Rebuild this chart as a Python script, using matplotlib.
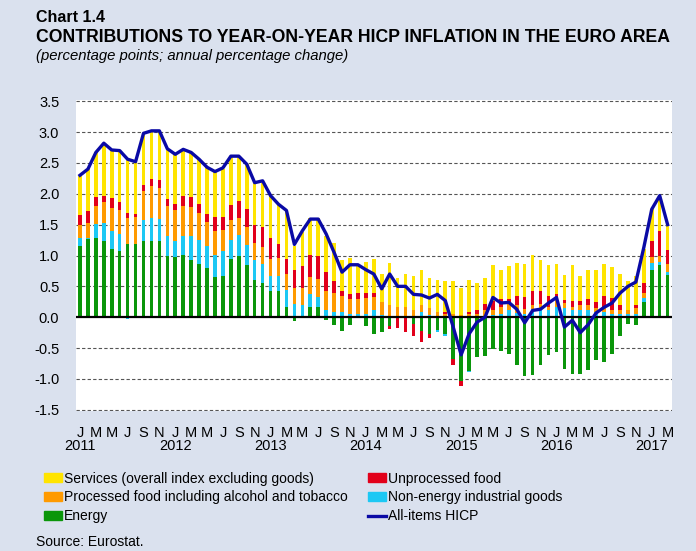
import matplotlib
matplotlib.use("Agg")
import matplotlib.pyplot as plt
import matplotlib.transforms as mtransforms
from matplotlib.patches import Patch
from matplotlib.lines import Line2D
import numpy as np

# monthly data, Jan 2011 - Mar 2017 (percentage points)
energy = [1.16, 1.26, 1.28, 1.24, 1.11, 1.08, 1.19, 1.18, 1.24, 1.24, 1.23, 0.99,
          0.97, 1.01, 0.92, 0.87, 0.79, 0.65, 0.66, 0.95, 0.99, 0.85, 0.61, 0.55,
          0.42, 0.42, 0.16, -0.06, -0.02, 0.16, 0.16, -0.05, -0.12, -0.22, -0.12, 0.00,
          -0.15, -0.27, -0.24, -0.14, -0.01, -0.01, -0.11, -0.23, -0.27, -0.20, -0.27, -0.67,
          -1.04, -0.87, -0.65, -0.63, -0.51, -0.55, -0.60, -0.78, -0.96, -0.93, -0.78, -0.62,
          -0.57, -0.84, -0.92, -0.92, -0.86, -0.69, -0.72, -0.59, -0.31, -0.11, -0.12, 0.24,
          0.76, 0.85, 0.68]
neig = [0.13, 0.02, 0.23, 0.29, 0.28, 0.27, -0.03, -0.01, 0.33, 0.37, 0.36, 0.33,
        0.27, 0.30, 0.39, 0.38, 0.36, 0.36, 0.41, 0.30, 0.34, 0.32, 0.32, 0.31,
        0.25, 0.24, 0.28, 0.22, 0.20, 0.22, 0.16, 0.12, 0.09, 0.08, 0.05, 0.05,
        0.06, 0.12, 0.03, 0.01, 0.01, 0.01, 0.01, 0.09, 0.03, -0.04, -0.03, 0.00,
        0.00, -0.02, 0.00, 0.01, 0.04, 0.06, 0.11, 0.07, 0.05, 0.13, 0.15, 0.12,
        0.17, 0.15, 0.12, 0.12, 0.12, 0.08, 0.08, 0.05, 0.05, 0.05, 0.06, 0.07,
        0.12, 0.04, 0.06]
processed = [0.21, 0.24, 0.29, 0.34, 0.38, 0.38, 0.41, 0.44, 0.48, 0.51, 0.50, 0.49,
             0.49, 0.50, 0.47, 0.44, 0.40, 0.39, 0.35, 0.32, 0.28, 0.29, 0.28, 0.28,
             0.28, 0.30, 0.26, 0.25, 0.27, 0.27, 0.30, 0.31, 0.30, 0.26, 0.25, 0.25,
             0.25, 0.21, 0.21, 0.18, 0.15, 0.15, 0.11, 0.11, 0.12, 0.08, 0.05, 0.05,
             0.03, 0.05, 0.05, 0.10, 0.08, 0.10, 0.13, 0.12, 0.08, 0.07, 0.07, 0.04,
             0.12, 0.08, 0.05, 0.07, 0.08, 0.07, 0.08, 0.07, 0.07, 0.07, 0.09, 0.09,
             0.10, 0.11, 0.12]
unprocessed = [0.16, 0.20, 0.15, 0.10, 0.16, 0.14, 0.09, 0.06, 0.10, 0.12, 0.14, 0.11,
               0.11, 0.15, 0.16, 0.15, 0.13, 0.23, 0.21, 0.25, 0.28, 0.30, 0.29, 0.32,
               0.34, 0.23, 0.25, 0.30, 0.36, 0.36, 0.38, 0.31, 0.20, 0.09, 0.07, 0.10,
               0.09, 0.07, 0.00, -0.05, -0.17, -0.23, -0.20, -0.17, -0.07, 0.00, 0.04, -0.10,
               -0.08, 0.04, 0.06, 0.10, 0.15, 0.14, 0.05, 0.16, 0.19, 0.23, 0.20, 0.19,
               0.08, 0.05, 0.10, 0.08, 0.10, 0.10, 0.19, 0.19, 0.07, 0.00, 0.05, 0.16,
               0.26, 0.39, 0.23]
services = [0.63, 0.68, 0.72, 0.85, 0.78, 0.83, 0.85, 0.84, 0.83, 0.78, 0.79, 0.81,
            0.80, 0.76, 0.73, 0.72, 0.75, 0.72, 0.77, 0.78, 0.71, 0.72, 0.67, 0.72,
            0.67, 0.63, 0.78, 0.39, 0.55, 0.60, 0.61, 0.58, 0.61, 0.50, 0.59, 0.45,
            0.49, 0.55, 0.46, 0.69, 0.48, 0.54, 0.54, 0.56, 0.49, 0.52, 0.49, 0.54,
            0.44, 0.52, 0.44, 0.42, 0.58, 0.47, 0.54, 0.53, 0.54, 0.58, 0.50, 0.50,
            0.50, 0.40, 0.58, 0.39, 0.46, 0.51, 0.51, 0.50, 0.51, 0.47, 0.47, 0.55,
            0.51, 0.58, 0.41]
hicp = [2.30, 2.40, 2.67, 2.82, 2.71, 2.70, 2.56, 2.52, 2.98, 3.02, 3.02, 2.73,
        2.64, 2.72, 2.67, 2.56, 2.43, 2.36, 2.42, 2.61, 2.61, 2.48, 2.18, 2.21,
        1.97, 1.83, 1.73, 1.18, 1.40, 1.59, 1.59, 1.35, 1.05, 0.73, 0.85, 0.85,
        0.77, 0.70, 0.46, 0.70, 0.50, 0.50, 0.37, 0.36, 0.31, 0.37, 0.27, -0.16,
        -0.61, -0.27, -0.08, 0.00, 0.32, 0.23, 0.24, 0.13, -0.09, 0.11, 0.13, 0.23,
        0.32, -0.16, -0.05, -0.25, -0.12, 0.07, 0.16, 0.23, 0.39, 0.50, 0.57, 1.13,
        1.75, 1.97, 1.50]

month_letters = ["J", "F", "M", "A", "M", "J", "J", "A", "S", "O", "N", "D"]
years = ["2011", "2012", "2013", "2014", "2015", "2016", "2017"]

series = [
    ("Energy", energy, "#0A960A"),
    ("Non-energy industrial goods", neig, "#1CC8F4"),
    ("Processed food including alcohol and tobacco", processed, "#FF9A00"),
    ("Unprocessed food", unprocessed, "#E2001A"),
    ("Services (overall index excluding goods)", services, "#FFE400"),
]

bg = "#DAE1EE"
line_col = "#0A0AA5"
fig = plt.figure(figsize=(6.96, 5.51), dpi=100, facecolor=bg)
plt.rcParams["font.family"] = ["Liberation Sans", "DejaVu Sans"]

W, H = 696.0, 551.0
ax = fig.add_axes([76 / W, 1 - 411 / H, (672 - 76) / W, (411 - 100) / H])
ax.set_facecolor("white")

x = np.arange(len(hicp))
pos_base = np.zeros(len(x))
neg_base = np.zeros(len(x))
handles = {}
for name, vals, col in series:
    v = np.array(vals)
    base = np.where(v >= 0, pos_base, neg_base)
    ax.bar(x, v, width=0.45, bottom=base, color=col, linewidth=0, zorder=2)
    handles[name] = Patch(color=col)
    pos_base = pos_base + np.clip(v, 0, None)
    neg_base = neg_base + np.clip(v, None, 0)

ax.plot(x, hicp, color=line_col, lw=2.4, zorder=4, solid_joinstyle="round")
ax.axhline(0, color="black", lw=1.6, zorder=3)

yt = np.arange(-1.5, 3.51, 0.5)
ax.set_ylim(-1.52, 3.52)
ax.set_xlim(-0.5, 74.55)
ax.set_yticks(yt)
ax.set_yticklabels([f"{t:.1f}" for t in yt])
for t in yt:
    if abs(t) > 1e-9:
        ax.axhline(t, color="#555555", lw=0.8, ls=(0, (3, 2)), zorder=1)

ticks = x[::2]
ax.set_xticks(ticks)
ax.set_xticklabels([month_letters[i % 12] for i in ticks])
ax.tick_params(axis="both", length=0, labelsize=10.5, colors="black")
ax.tick_params(axis="y", pad=12)
ax.tick_params(axis="x", pad=11)
for s in ax.spines.values():
    s.set_visible(False)

trans = mtransforms.blended_transform_factory(ax.transData, fig.transFigure)
for i, yr in enumerate(years):
    ax.text(i * 12, 1 - 446 / H, yr, transform=trans, ha="center", va="center", fontsize=10.5)

fig.text(36 / W, 1 - 17 / H, "Chart 1.4", fontsize=11.5, fontweight="bold", va="center")
fig.text(36 / W, 1 - 37 / H, "CONTRIBUTIONS TO YEAR-ON-YEAR HICP INFLATION IN THE EURO AREA",
         fontsize=12.7, fontweight="bold", va="center")
fig.text(36 / W, 1 - 56 / H, "(percentage points; annual percentage change)",
         fontsize=10.7, style="italic", va="center")
fig.text(36 / W, 1 - 542 / H, "Source: Eurostat.", fontsize=10, va="center")

order = ["Services (overall index excluding goods)",
         "Processed food including alcohol and tobacco",
         "Energy",
         "Unprocessed food",
         "Non-energy industrial goods"]
leg_handles = [handles[n] for n in order] + [Line2D([0], [0], color=line_col, lw=2.4)]
leg_labels = order + ["All-items HICP"]
fig.legend(leg_handles, leg_labels, ncol=2, loc="upper left",
           bbox_to_anchor=(38 / W, 1 - 466 / H), frameon=False, fontsize=10,
           handlelength=1.3, handleheight=0.55, handletextpad=0.15,
           columnspacing=1.45, labelspacing=0.35, borderaxespad=0)

fig.savefig("out.png", dpi=100, facecolor=bg)
